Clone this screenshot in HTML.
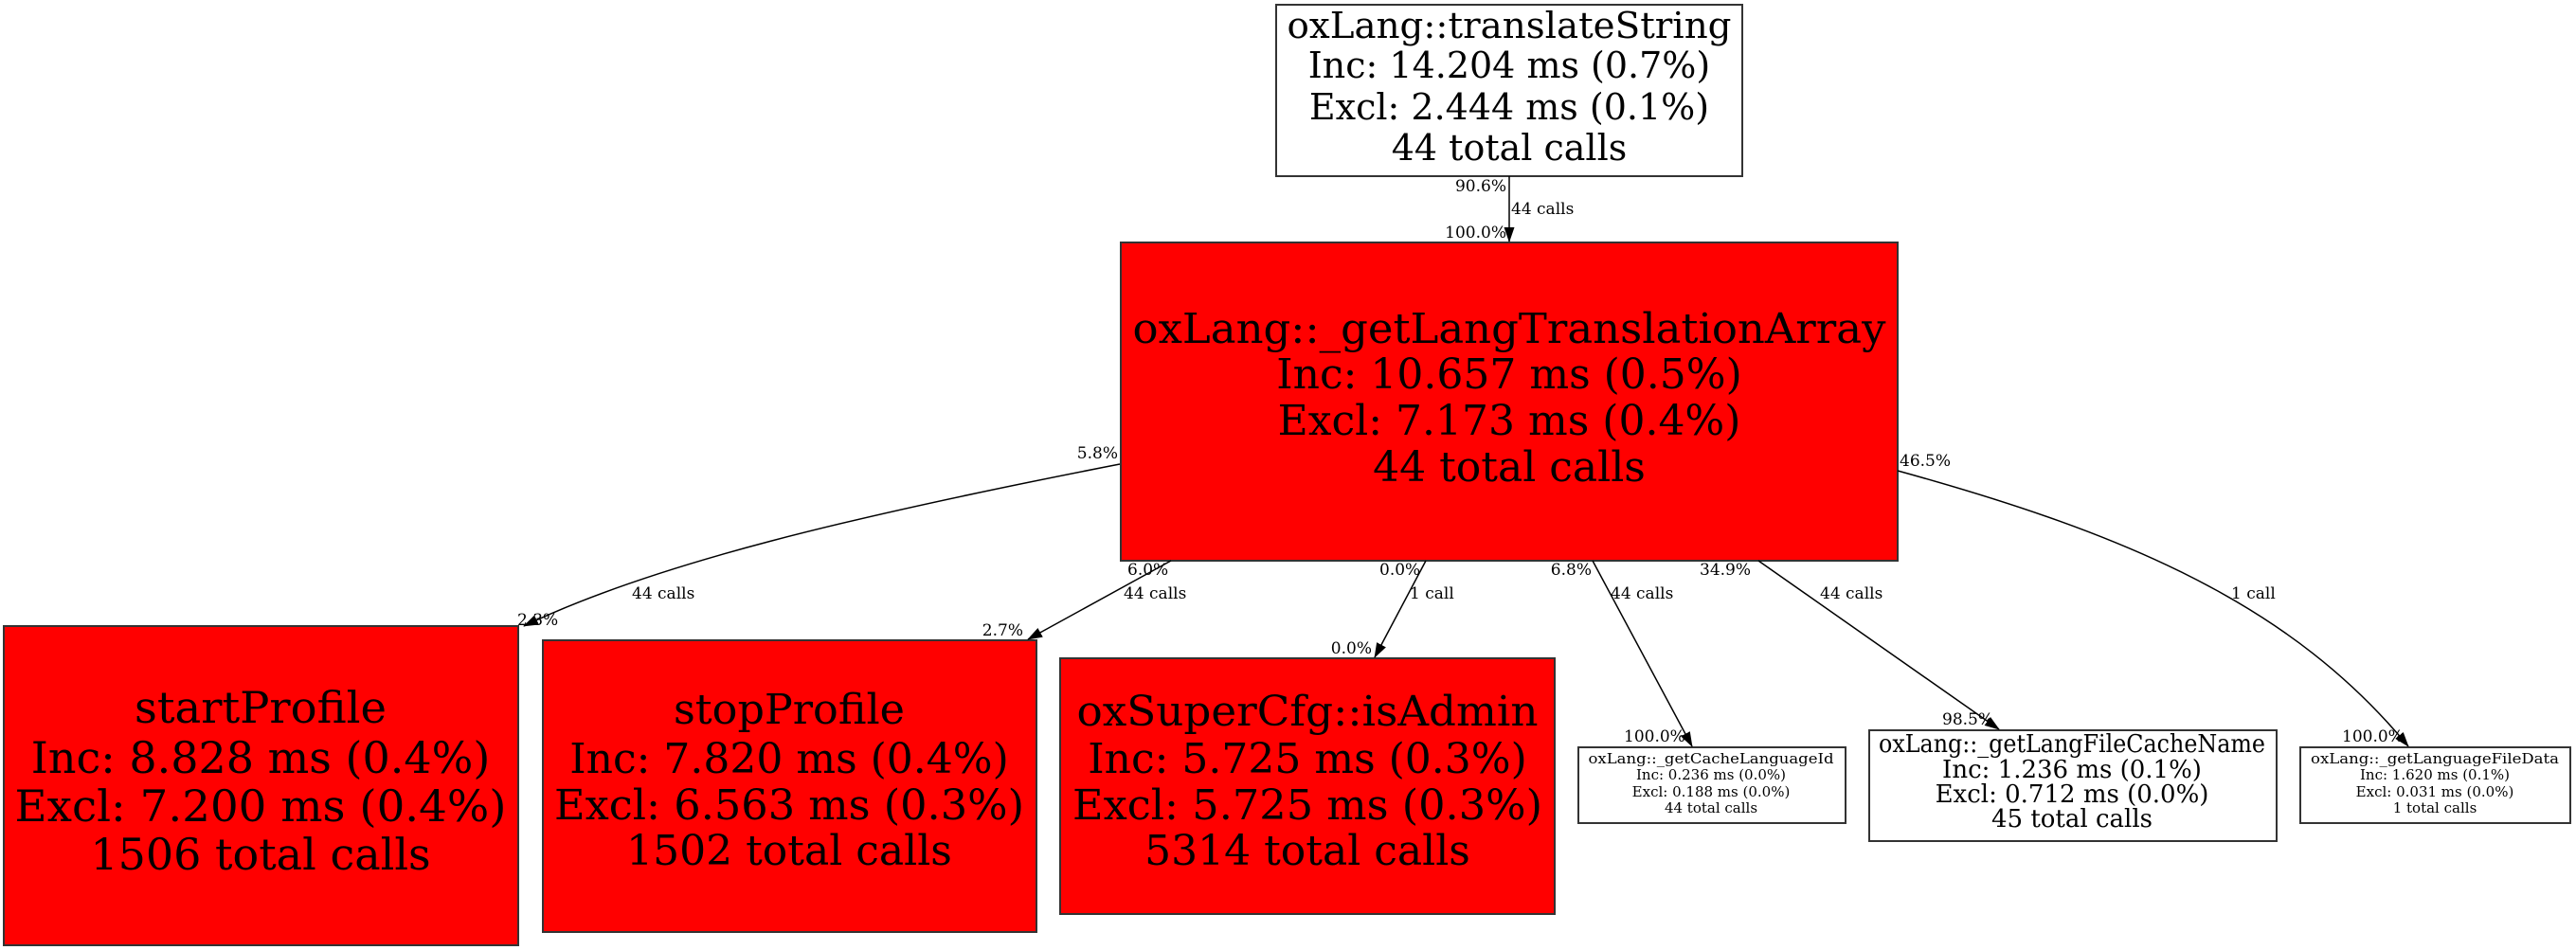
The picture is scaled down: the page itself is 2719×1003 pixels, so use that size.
<!DOCTYPE html>
<html><head><meta charset="utf-8"><style>
html,body{margin:0;padding:0;background:#fff;}
svg{display:block;}
text{font-family:"DejaVu Serif","Liberation Serif",serif;fill:#000;}
</style></head><body>
<svg width="2719" height="1003" viewBox="0 0 2719 1003" xmlns="http://www.w3.org/2000/svg">
<defs>
<marker id="a" markerWidth="16" markerHeight="12" refX="15" refY="6" orient="auto" markerUnits="userSpaceOnUse" viewBox="0 0 16 12">
<path d="M0,0.5 L16,6 L0,11.5 z" fill="#000"/>
</marker>
</defs>

<rect x="1347" y="5" width="492" height="181" fill="#fff" stroke="#333" stroke-width="2"/>
<g font-size="38" text-anchor="middle">
<text x="1593" y="40" textLength="469" lengthAdjust="spacingAndGlyphs">oxLang::translateString</text>
<text x="1593" y="82">Inc: 14.204 ms (0.7%)</text>
<text x="1593" y="126">Excl: 2.444 ms (0.1%)</text>
<text x="1593" y="169">44 total calls</text>
</g>

<rect x="1183" y="256" width="820" height="336" fill="#f00" stroke="#333" stroke-width="2"/>
<g font-size="44" text-anchor="middle">
<text x="1593" y="362" textLength="795" lengthAdjust="spacingAndGlyphs">oxLang::_getLangTranslationArray</text>
<text x="1593" y="410">Inc: 10.657 ms (0.5%)</text>
<text x="1593" y="459">Excl: 7.173 ms (0.4%)</text>
<text x="1593" y="508">44 total calls</text>
</g>

<rect x="4" y="661" width="543" height="337" fill="#f00" stroke="#333" stroke-width="2"/>
<g font-size="46" text-anchor="middle">
<text x="275" y="763" textLength="266" lengthAdjust="spacingAndGlyphs">startProfile</text>
<text x="275" y="816">Inc: 8.828 ms (0.4%)</text>
<text x="275" y="867" textLength="519" lengthAdjust="spacingAndGlyphs">Excl: 7.200 ms (0.4%)</text>
<text x="275" y="918">1506 total calls</text>
</g>

<rect x="573" y="676" width="521" height="308" fill="#f00" stroke="#333" stroke-width="2"/>
<g font-size="44" text-anchor="middle">
<text x="833" y="764" textLength="244" lengthAdjust="spacingAndGlyphs">stopProfile</text>
<text x="833" y="816">Inc: 7.820 ms (0.4%)</text>
<text x="833" y="865" textLength="496" lengthAdjust="spacingAndGlyphs">Excl: 6.563 ms (0.3%)</text>
<text x="833" y="913">1502 total calls</text>
</g>

<rect x="1119" y="695" width="522" height="270" fill="#f00" stroke="#333" stroke-width="2"/>
<g font-size="44" text-anchor="middle">
<text x="1380" y="766" textLength="487" lengthAdjust="spacingAndGlyphs">oxSuperCfg::isAdmin</text>
<text x="1380" y="816">Inc: 5.725 ms (0.3%)</text>
<text x="1380" y="865" textLength="496" lengthAdjust="spacingAndGlyphs">Excl: 5.725 ms (0.3%)</text>
<text x="1380" y="913">5314 total calls</text>
</g>

<rect x="1666" y="789" width="282" height="80" fill="#fff" stroke="#333" stroke-width="2"/>
<g font-size="15" text-anchor="middle">
<text x="1806" y="806" textLength="259" lengthAdjust="spacingAndGlyphs">oxLang::_getCacheLanguageId</text>
<text x="1806" y="823">Inc: 0.236 ms (0.0%)</text>
<text x="1806" y="841">Excl: 0.188 ms (0.0%)</text>
<text x="1806" y="858">44 total calls</text>
</g>

<rect x="1973" y="771" width="430" height="117" fill="#fff" stroke="#333" stroke-width="2"/>
<g font-size="26" text-anchor="middle">
<text x="2187" y="794" textLength="408" lengthAdjust="spacingAndGlyphs">oxLang::_getLangFileCacheName</text>
<text x="2187" y="821">Inc: 1.236 ms (0.1%)</text>
<text x="2187" y="847">Excl: 0.712 ms (0.0%)</text>
<text x="2187" y="873">45 total calls</text>
</g>

<rect x="2428" y="789" width="285" height="80" fill="#fff" stroke="#333" stroke-width="2"/>
<g font-size="15" text-anchor="middle">
<text x="2570" y="806" textLength="262" lengthAdjust="spacingAndGlyphs">oxLang::_getLanguageFileData</text>
<text x="2570" y="823">Inc: 1.620 ms (0.1%)</text>
<text x="2570" y="841">Excl: 0.031 ms (0.0%)</text>
<text x="2570" y="858">1 total calls</text>
</g>

<g fill="none" stroke="#000" stroke-width="1.5">
<path d="M1593,186 L1593,255" marker-end="url(#a)"/>
<path d="M1182,490 C900,545 690,595 553,661" marker-end="url(#a)"/>
<path d="M1236,592 L1085,675" marker-end="url(#a)"/>
<path d="M1505,592 L1451,694" marker-end="url(#a)"/>
<path d="M1681,592 L1786,788" marker-end="url(#a)"/>
<path d="M1856,592 L2110,770" marker-end="url(#a)"/>
<path d="M2003,497 C2250,565 2420,640 2542,788" marker-end="url(#a)"/>
</g>

<g font-size="17">
<text x="1590" y="202" text-anchor="end">90.6%</text>
<text x="1595" y="226">44 calls</text>
<text x="1590" y="251" text-anchor="end">100.0%</text>

<text x="1180" y="484" text-anchor="end">5.8%</text>
<text x="667" y="632">44 calls</text>
<text x="546" y="660">2.3%</text>

<text x="1190" y="607">6.0%</text>
<text x="1186" y="632">44 calls</text>
<text x="1080" y="671" text-anchor="end">2.7%</text>

<text x="1456" y="607">0.0%</text>
<text x="1488" y="632">1 call</text>
<text x="1448" y="690" text-anchor="end">0.0%</text>

<text x="1680" y="607" text-anchor="end">6.8%</text>
<text x="1700" y="632">44 calls</text>
<text x="1714" y="783">100.0%</text>

<text x="1794" y="607">34.9%</text>
<text x="1921" y="632">44 calls</text>
<text x="2050" y="765">98.5%</text>

<text x="2005" y="492">46.5%</text>
<text x="2355" y="632">1 call</text>
<text x="2472" y="783">100.0%</text>
</g>
</svg>
</body></html>
